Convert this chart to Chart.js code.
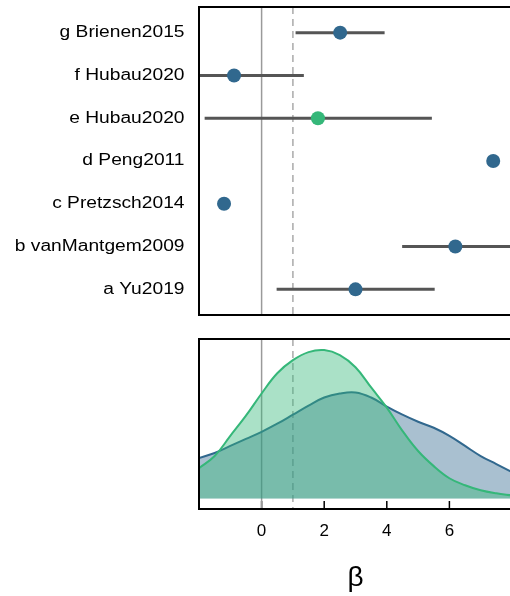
<!DOCTYPE html>
<html>
<head>
<meta charset="utf-8">
<script src="https://cdn.jsdelivr.net/npm/chart.js@4/dist/chart.umd.min.js"></script>
<style>
  html, body { margin: 0; padding: 0; background: #fff; overflow: hidden; width: 510px; height: 596px; }
  #wrap { position: relative; width: 510px; height: 596px; overflow: hidden; }
  canvas { position: absolute; left: 0; }
  #forest { top: 0; }
  #dens { top: 330px; }
</style>
</head>
<body>
<div id="wrap">
  <canvas id="forest" width="514" height="324"></canvas>
  <canvas id="dens" width="514" height="266"></canvas>
</div>
<script>
// Study estimates of beta with confidence intervals (rows bottom to top)
const studies   = ['a Yu2019', 'b vanMantgem2009', 'c Pretzsch2014', 'd Peng2011', 'e Hubau2020', 'f Hubau2020', 'g Brienen2015'];
const estimates = [3.0, 6.19, -1.20, 7.40, 1.80, -0.88, 2.51];
const lower     = [0.48, 4.49, null, null, -1.82, -3.11, 1.085];
const upper     = [5.53, 7.95, null, null, 5.44, 1.35, 3.93];
const groupOf   = [1, 1, 1, 1, 2, 1, 1];

// Reference values marked on both panels
const refSolid  = 0;
const refDashed = 1;

// Axis ticks
const xTicks = [0, 2, 4, 6];

// Density estimates of beta for the two groups
const densX     = [-2, -1.5, -1, -0.5, 0, 0.5, 1, 1.5, 2, 2.5, 3, 3.5, 4, 4.5, 5, 5.5, 6, 6.5, 7, 7.5, 8];
const densBlue  = [40, 45, 52, 59, 66, 74, 83, 92, 100, 104, 105, 100, 91, 83, 76, 70, 62, 52, 42, 34, 26];
const densGreen = [30, 42, 62, 82, 104, 124, 137, 145, 147, 142, 130, 110, 90, 67, 47, 32, 20, 13, 8, 5, 3];

const BLUE = '#31688e';
const GREEN = '#35b779';
const groupColor = g => (g === 2 ? GREEN : BLUE);
const FONT = "'Liberation Sans', Arial, Helvetica, sans-serif";

// Black box around the plotting region
const framePlugin = {
  id: 'frame',
  afterDraw(chart) {
    const { ctx, chartArea: a } = chart;
    ctx.save();
    ctx.strokeStyle = '#000';
    ctx.lineWidth = 2;
    ctx.strokeRect(a.left, a.top, a.right - a.left, a.bottom - a.top);
    ctx.restore();
  }
};

// Vertical reference lines at beta = 0 (solid) and beta = 1 (dashed)
const refLinesPlugin = {
  id: 'refLines',
  beforeDatasetsDraw(chart) {
    const { ctx, chartArea: a, scales } = chart;
    const draw = (v, color, dash) => {
      const x = scales.x.getPixelForValue(v);
      ctx.save();
      ctx.strokeStyle = color;
      ctx.lineWidth = 1.5;
      ctx.setLineDash(dash);
      ctx.beginPath();
      ctx.moveTo(x, a.top);
      ctx.lineTo(x, a.bottom);
      ctx.stroke();
      ctx.restore();
    };
    draw(refSolid, '#9a9a9a', []);
    draw(refDashed, '#aaaaaa', [7, 5]);
  }
};

// Study names along the left side of the forest panel
const studyLabelsPlugin = {
  id: 'studyLabels',
  afterDraw(chart) {
    const { ctx, chartArea: a, scales } = chart;
    ctx.save();
    ctx.fillStyle = '#000';
    ctx.font = `16px ${FONT}`;
    ctx.textAlign = 'right';
    ctx.textBaseline = 'middle';
    studies.forEach((name, i) => {
      const y = scales.y.getPixelForValue(i + 1);
      ctx.save();
      ctx.translate(a.left - 14.5, y);
      ctx.scale(1.2, 1);
      ctx.fillText(name, 0, 0);
      ctx.restore();
    });
    ctx.restore();
  }
};

// Short tick marks pointing up from the bottom axis
const innerTicksPlugin = {
  id: 'innerTicks',
  beforeDatasetsDraw(chart) {
    const { ctx, chartArea: a, scales } = chart;
    ctx.save();
    ctx.strokeStyle = '#000';
    ctx.lineWidth = 1.5;
    xTicks.forEach(v => {
      const x = scales.x.getPixelForValue(v);
      ctx.beginPath();
      ctx.moveTo(x, a.bottom);
      ctx.lineTo(x, a.bottom - 8);
      ctx.stroke();
    });
    ctx.restore();
  }
};

// ---- Forest panel ----
const pointData = estimates.map((v, i) => ({ x: v, y: i + 1 }));
const barSets = [];
studies.forEach((s, i) => {
  if (lower[i] === null || upper[i] === null) return;
  barSets.push({
    type: 'line',
    data: [{ x: lower[i], y: i + 1 }, { x: upper[i], y: i + 1 }],
    borderColor: '#555555',
    borderWidth: 3,
    pointRadius: 0,
    borderCapStyle: 'butt',
    order: 2
  });
});

new Chart(document.getElementById('forest'), {
  type: 'scatter',
  data: {
    datasets: [
      {
        data: pointData,
        pointRadius: 7,
        pointHoverRadius: 7,
        pointBorderWidth: 0,
        pointBackgroundColor: groupOf.map(groupColor),
        pointBorderColor: groupOf.map(groupColor),
        order: 1
      },
      ...barSets
    ]
  },
  options: {
    responsive: false,
    animation: false,
    devicePixelRatio: 1,
    layout: { autoPadding: false, padding: { left: 199, top: 7, right: 2, bottom: 9 } },
    plugins: { legend: { display: false }, tooltip: { enabled: false } },
    scales: {
      x: { type: 'linear', min: -2, max: 8, display: false },
      y: { type: 'linear', min: 0.4, max: 7.6, display: false }
    }
  },
  plugins: [refLinesPlugin, framePlugin, studyLabelsPlugin]
});

// ---- Density panel ----
new Chart(document.getElementById('dens'), {
  type: 'line',
  data: {
    labels: densX,
    datasets: [
      {
        data: densX.map((x, i) => ({ x, y: densGreen[i] })),
        borderColor: GREEN,
        backgroundColor: 'rgba(53,183,121,0.42)',
        borderWidth: 2,
        fill: 'origin',
        pointRadius: 0,
        tension: 0.4
      },
      {
        data: densX.map((x, i) => ({ x, y: densBlue[i] })),
        borderColor: BLUE,
        backgroundColor: 'rgba(49,104,142,0.42)',
        borderWidth: 2,
        fill: 'origin',
        pointRadius: 0,
        tension: 0.4
      }
    ]
  },
  options: {
    responsive: false,
    animation: false,
    devicePixelRatio: 1,
    layout: { autoPadding: false, padding: { left: 199, top: 9, right: 2, bottom: 0.5 } },
    plugins: { legend: { display: false }, tooltip: { enabled: false } },
    scales: {
      x: {
        type: 'linear',
        min: -2,
        max: 8,
        afterBuildTicks: s => { s.ticks = xTicks.map(v => ({ value: v })); },
        grid: { display: false, drawTicks: false },
        border: { display: false },
        ticks: { color: '#000', font: { family: FONT, size: 17 }, padding: 12, maxRotation: 0 },
        title: { display: true, text: 'β', color: '#000', font: { family: FONT, size: 28 }, padding: { top: 8.5, bottom: 0 } }
      },
      y: { type: 'linear', min: -10.5, max: 158, display: false }
    }
  },
  plugins: [innerTicksPlugin, refLinesPlugin, framePlugin]
});
</script>
</body>
</html>
